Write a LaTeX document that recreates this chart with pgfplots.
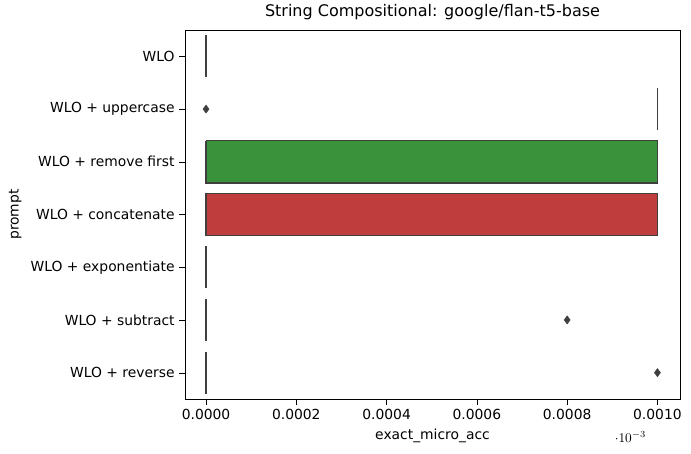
\documentclass[border=0pt]{standalone}
\usepackage{pgfplots}
\pgfplotsset{compat=1.18}
\usepackage{fontspec}
\setmainfont{DejaVu Sans}
\definecolor{dg}{HTML}{3F3F3F}
\definecolor{bgreen}{HTML}{3A923A}
\definecolor{bred}{HTML}{C03D3E}
\begin{document}
\begin{tikzpicture}
\begin{axis}[
  scale only axis, width=371.25pt, height=276.75pt,
  xmin=-0.0000466, xmax=0.00105,
  ymin=-0.5, ymax=6.5, y dir=reverse,
  ytick={0,...,6},
  yticklabels={WLO, WLO + uppercase, WLO + remove first, WLO + concatenate, WLO + exponentiate, WLO + subtract, WLO + reverse},
  xtick={0,0.0002,0.0004,0.0006,0.0008,0.001},
  xticklabels={0.0000,0.0002,0.0004,0.0006,0.0008,0.0010},
  /pgf/number format/assume math mode=true,
  tick style={black}, tick align=outside,
  xtick pos=bottom, ytick pos=left,
  font=\fontsize{10.4pt}{12pt}\selectfont,
  xlabel={exact\_micro\_acc}, ylabel={prompt},
  title={String Compositional: google/flan-t5-base},
  title style={font=\fontsize{12pt}{14pt}\selectfont, yshift=-2pt},
]
% boxes
\addplot[fill=bgreen, draw=dg, line width=1.1pt] coordinates {(0,1.6) (0.001,1.6) (0.001,2.4) (0,2.4) (0,1.6)};
\addplot[fill=bred, draw=dg, line width=1.1pt] coordinates {(0,2.6) (0.001,2.6) (0.001,3.4) (0,3.4) (0,2.6)};
% degenerate boxes
\addplot[dg, line width=1.4pt] coordinates {(0,-0.4) (0,0.4)};
\addplot[dg, line width=1.4pt] coordinates {(0.001,0.6) (0.001,1.4)};
\addplot[dg, line width=1.4pt] coordinates {(0,3.6) (0,4.4)};
\addplot[dg, line width=1.4pt] coordinates {(0,4.6) (0,5.4)};
\addplot[dg, line width=1.4pt] coordinates {(0,5.6) (0,6.4)};
% outliers
\addplot[only marks, mark=diamond*, mark size=3pt, mark options={fill=dg, draw=dg}] coordinates {(0,1) (0.0008,5) (0.001,6)};
\end{axis}
\path (current axis.south west) ++(-138.75pt,-40.5pt) coordinate (a);
\path (current axis.north east) ++(8.25pt,22.5pt) coordinate (b);
\useasboundingbox (a) rectangle (b);
\end{tikzpicture}
\end{document}
